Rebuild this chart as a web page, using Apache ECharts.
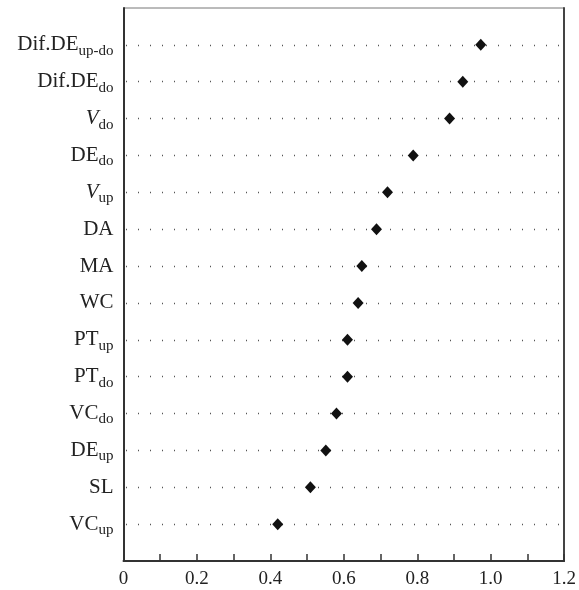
<!DOCTYPE html>
<html>
<head>
<meta charset="utf-8">
<script src="https://cdn.jsdelivr.net/npm/echarts@6/dist/echarts.min.js"></script>
<style>
html,body{margin:0;padding:0;background:#fff;}
#chart{width:579px;height:590px;}
</style>
</head>
<body>
<div id="chart"></div>
<script>
// Categories top to bottom: main text, subscript, italic main?
const catMain = ['Dif.DE', 'Dif.DE', 'V', 'DE', 'V', 'DA', 'MA', 'WC', 'PT', 'PT', 'VC', 'DE', 'SL', 'VC'];
const catSub  = ['up-do', 'do', 'do', 'do', 'up', '', '', '', 'up', 'do', 'do', 'up', '', 'up'];
const catItalic = [false, false, true, false, true, false, false, false, false, false, false, false, false, false];
const values = [0.973, 0.924, 0.888, 0.789, 0.719, 0.689, 0.649, 0.639, 0.610, 0.610, 0.580, 0.551, 0.509, 0.420];
const xTickValues = [0, 0.2, 0.4, 0.6, 0.8, 1.0, 1.2];
const xTickLabels = ['0', '0.2', '0.4', '0.6', '0.8', '1.0', '1.2'];

const FONT = '"Liberation Serif", "DejaVu Serif", serif';

// axis slots: blank, 14 categories, blank
const yData = [' '].concat(catMain.map((m, i) => 'c' + i)).concat(['  ']);

const chart = echarts.init(document.getElementById('chart'), null, {renderer: 'canvas'});
chart.setOption({
  animation: false,
  backgroundColor: '#ffffff',
  grid: {
    left: 123.5, right: 11, top: 8, bottom: 29,
    show: true, borderColor: '#777', borderWidth: 1, backgroundColor: 'transparent'
  },
  xAxis: {
    type: 'value', min: 0, max: 1.2, interval: 0.1,
    axisLine: {show: true, lineStyle: {color: '#333', width: 2}},
    axisTick: {show: true, inside: true, length: 7, lineStyle: {color: '#333', width: 1.5}},
    splitLine: {show: false},
    axisLabel: {
      margin: 9, color: '#222', fontFamily: FONT, fontSize: 19,
      formatter: function (v) {
        const idx = xTickValues.findIndex(t => Math.abs(t - v) < 1e-6);
        return idx >= 0 ? xTickLabels[idx] : '';
      }
    }
  },
  yAxis: [{
    type: 'category', data: yData, boundaryGap: false, inverse: true,
    axisLine: {show: true, lineStyle: {color: '#333', width: 2}},
    axisTick: {show: false},
    splitLine: {
      show: true,
      interval: function (index) { return index > 0 && index < yData.length - 1; },
      lineStyle: {color: '#555', width: 1.4, type: [1, 11], dashOffset: 9.5}
    },
    axisLabel: {
      margin: 10, color: '#222', fontFamily: FONT, fontSize: 21,
      interval: 0,
      formatter: function (val, index) {
        const i = index - 1;
        if (i < 0 || i >= catMain.length) return '';
        const m = catItalic[i] ? '{i|' + catMain[i] + '}' : '{m|' + catMain[i] + '}';
        return catSub[i] ? m + '{s|' + catSub[i] + '}' : m;
      },
      rich: {
        m: {fontFamily: FONT, fontSize: 21, color: '#222'},
        i: {fontFamily: FONT, fontSize: 21, fontStyle: 'italic', color: '#222'},
        s: {fontFamily: FONT, fontSize: 15, color: '#222', padding: [12, 0, 0, 0]}
      }
    }
  }, {
    type: 'value', position: 'right', min: 0, max: 1,
    axisLine: {show: true, onZero: false, lineStyle: {color: '#444', width: 2}},
    axisTick: {show: false}, axisLabel: {show: false}, splitLine: {show: false}
  }],
  series: [{
    type: 'scatter',
    symbol: 'diamond',
    symbolSize: [11, 12],
    itemStyle: {color: '#111', opacity: 1},
    z: 5,
    data: values.map((v, i) => [v, i + 1])
  }]
});
</script>
</body>
</html>
